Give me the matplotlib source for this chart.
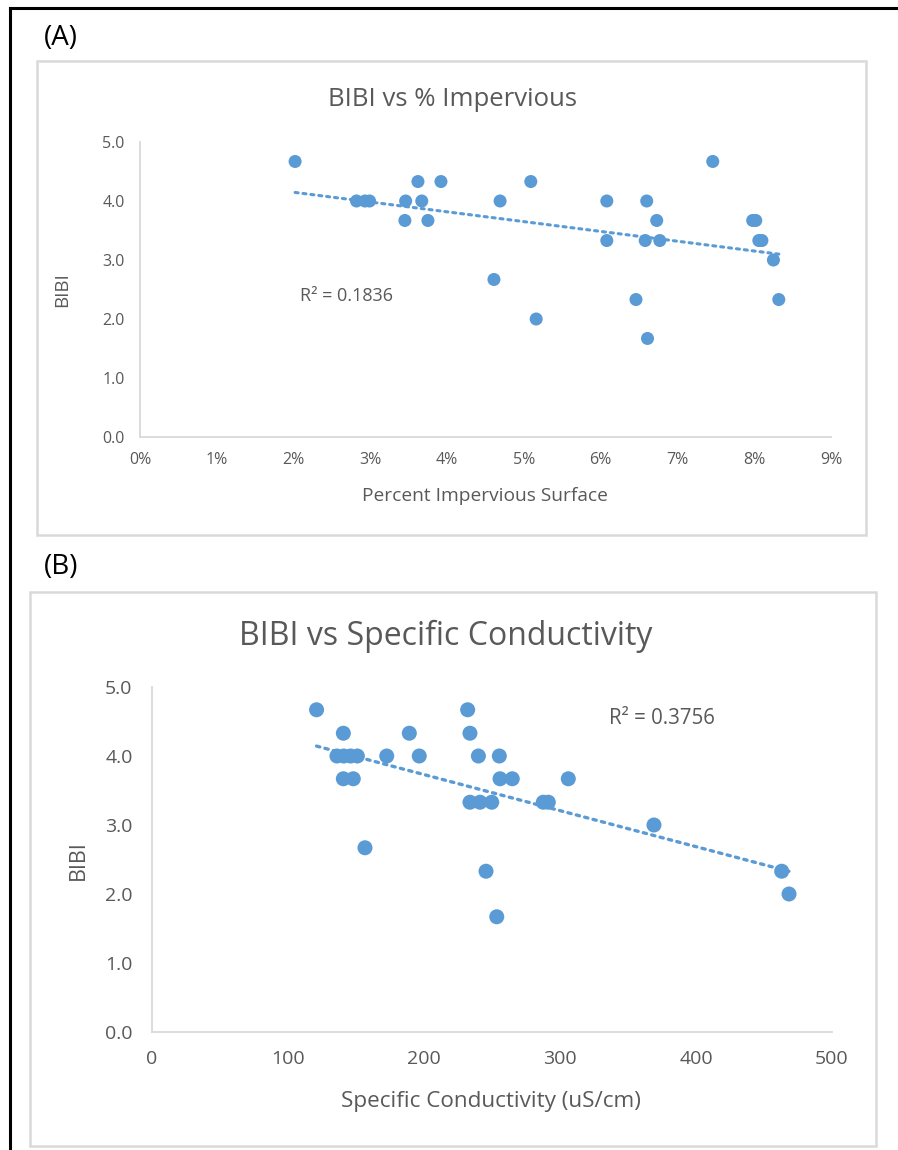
import matplotlib
matplotlib.use("Agg")
import matplotlib.pyplot as plt
import numpy as np
from matplotlib.patches import Rectangle
from matplotlib.lines import Line2D

plt.rcParams['font.family'] = ['Open Sans', 'DejaVu Sans']

# panel A: percent impervious surface vs BIBI
imperv = [2.02, 2.82, 2.93, 2.99, 3.46, 3.62, 3.67, 3.92, 3.45, 3.75,
          4.69, 5.09, 4.61, 5.16, 7.46, 6.08, 6.60, 6.73, 7.98, 8.02,
          6.08, 6.58, 6.77, 8.06, 8.10, 8.25, 6.46, 8.32, 6.61]
bibi_a = [4.67, 4.0, 4.0, 4.0, 4.0, 4.33, 4.0, 4.33, 3.67, 3.67,
          4.0, 4.33, 2.67, 2.0, 4.67, 4.0, 4.0, 3.67, 3.67, 3.67,
          3.33, 3.33, 3.33, 3.33, 3.33, 3.0, 2.33, 2.33, 1.67]

# panel B: specific conductivity vs BIBI
cond = [121, 140.7, 136, 141, 146, 151, 172.6, 196.5, 189.2, 140.7,
        148, 156.6, 232.1, 233.8, 240, 255.4, 255.9, 264.9, 306.1, 233.8,
        241.2, 249.8, 287.7, 291.4, 369.1, 245.6, 253.5, 463, 468.4]
bibi_b = [4.67, 4.33, 4.0, 4.0, 4.0, 4.0, 4.0, 4.0, 4.33, 3.67,
          3.67, 2.67, 4.67, 4.33, 4.0, 4.0, 3.67, 3.67, 3.67, 3.33,
          3.33, 3.33, 3.33, 3.33, 3.0, 2.33, 1.67, 2.33, 2.0]

W, H = 898, 1150
BLUE = "#5B9BD5"
GRAY = "#595959"
EDGE = "#D9D9D9"

fig = plt.figure(figsize=(W / 100, H / 100), dpi=100)


def box(x0, y0, x1, y1):
    # pixel box (top-left origin) -> figure fraction
    return [x0 / W, 1 - y1 / H, (x1 - x0) / W, (y1 - y0) / H]


# outer black border (left and top)
fig.add_artist(Line2D([10 / W, 10 / W], [0, 1 - 8 / H], color="black", lw=2.2))
fig.add_artist(Line2D([10 / W, 1], [1 - 8 / H, 1 - 8 / H], color="black", lw=2.2))

# chart frames
for x0, y0, x1, y1 in [(37, 61, 866, 535), (30, 592, 876, 1146)]:
    fig.add_artist(Rectangle((x0 / W, 1 - y1 / H), (x1 - x0) / W, (y1 - y0) / H,
                             fill=False, ec=EDGE, lw=1.8))

fig.text(44 / W, 1 - 38 / H, "(A)", fontsize=20, va="center", ha="left", color="black")
fig.text(44 / W, 1 - 567 / H, "(B)", fontsize=20, va="center", ha="left", color="black")


def style(ax, fs, xpad, ypad):
    for s in ["top", "right"]:
        ax.spines[s].set_visible(False)
    for s in ["left", "bottom"]:
        ax.spines[s].set_color(EDGE)
        ax.spines[s].set_linewidth(1.3)
    ax.tick_params(length=0, labelsize=fs, labelcolor=GRAY)
    ax.tick_params(axis="x", pad=xpad)
    ax.tick_params(axis="y", pad=ypad)
    ax.set_ylim(0, 5)
    ax.set_yticks(np.arange(0, 5.01, 1.0))
    ax.set_yticklabels([f"{v:.1f}" for v in np.arange(0, 5.01, 1.0)])


def trend(ax, x, y, lw):
    x = np.asarray(x, float)
    y = np.asarray(y, float)
    m, b = np.polyfit(x, y, 1)
    xs = np.array([x.min(), x.max()])
    ax.plot(xs, m * xs + b, color=BLUE, lw=lw, ls=(0, (1, 1.6)),
            dash_capstyle="round", zorder=3)


# ---- panel A
axA = fig.add_axes(box(140, 142, 831, 437))
axA.scatter(imperv, bibi_a, s=88, color=BLUE, edgecolors="none", zorder=2)
trend(axA, imperv, bibi_a, 2.2)
axA.set_xlim(0, 9)
axA.set_xticks(range(0, 10))
axA.set_xticklabels([f"{v}%" for v in range(0, 10)])
style(axA, 11.5, 11, 11)
axA.text(2.08, 2.39, "R² = 0.1836", fontsize=13, color=GRAY, va="center", ha="left")
fig.text(452 / W, 1 - 99 / H, "BIBI vs % Impervious", fontsize=18.5, color=GRAY,
         ha="center", va="center")
fig.text(485 / W, 1 - 496 / H, "Percent Impervious Surface", fontsize=13.8, color=GRAY,
         ha="center", va="center")
fig.text(62 / W, 1 - 290 / H, "BIBI", fontsize=13.5, color=GRAY, rotation=90,
         ha="center", va="center")

# ---- panel B
axB = fig.add_axes(box(152, 687, 832, 1032))
axB.scatter(cond, bibi_b, s=117, color=BLUE, edgecolors="none", zorder=2)
trend(axB, cond, bibi_b, 2.4)
axB.set_xlim(0, 500)
axB.set_xticks(range(0, 501, 100))
style(axB, 14, 13, 14)
axB.text(336, 4.54, "R² = 0.3756", fontsize=14.8, color=GRAY, va="center", ha="left")
fig.text(446 / W, 1 - 636 / H, "BIBI vs Specific Conductivity", fontsize=23, color=GRAY,
         ha="center", va="center")
fig.text(491 / W, 1 - 1101 / H, "Specific Conductivity (uS/cm)", fontsize=16.2, color=GRAY,
         ha="center", va="center")
fig.text(78 / W, 1 - 860 / H, "BIBI", fontsize=15.5, color=GRAY, rotation=90,
         ha="center", va="center")

for ax in (axA, axB):
    for c in ax.collections:
        c.set_clip_on(False)

fig.savefig("out.png", dpi=100)
